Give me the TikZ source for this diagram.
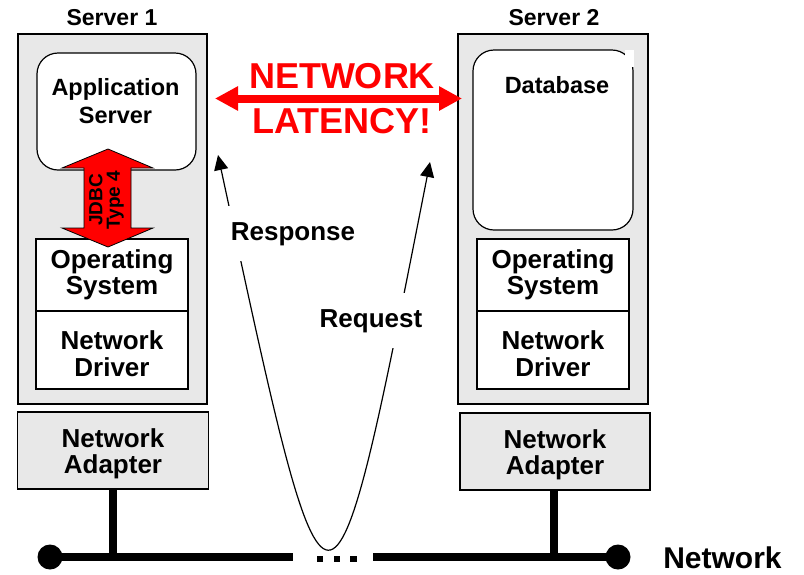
\documentclass[tikz,border=0pt]{standalone}
\usepackage{fontspec}
\setmainfont{Liberation Sans}
\usetikzlibrary{arrows.meta}
\definecolor{boxgray}{RGB}{232,232,232}
\definecolor{alarmred}{RGB}{255,0,0}
\begin{document}
\begin{tikzpicture}[x=1pt,y=-1pt,
  server/.style={draw, fill=boxgray, line width=1.4pt, inner sep=0pt},
  layer/.style={draw, fill=white, line width=1.2pt, inner sep=0pt, align=center,
    font=\fontsize{26}{26}\selectfont\bfseries},
  driver/.style={layer, text height=54pt, font=\fontsize{26}{27}\selectfont\bfseries},
  adapter/.style={draw, fill=boxgray, line width=1.2pt, inner sep=0pt, align=center,
    text height=51pt, font=\fontsize{26}{26}\selectfont\bfseries},
  softbox/.style={draw, fill=white, line width=1.2pt, rounded corners=21pt, inner sep=0pt},
  boxtext/.style={inner sep=0pt, align=center, font=\fontsize{23.5}{28}\selectfont\bfseries},
  srvlabel/.style={inner sep=0pt, anchor=base, font=\fontsize{23}{23}\selectfont\bfseries},
  flowlabel/.style={fill=white, inner xsep=4pt, inner ysep=16pt, anchor=base,
    font=\fontsize{26}{26}\selectfont\bfseries},
  flow/.style={line width=1.2pt, {Triangle[length=15pt,width=14pt]}-{Triangle[length=15pt,width=14pt]}},
  netline/.style={line width=7.5pt},
  latency/.style={alarmred, line width=8pt, {Triangle[length=23pt,width=23pt]}-{Triangle[length=23pt,width=23pt]}}
]
\useasboundingbox (0,0) rectangle (804,574);

% server enclosures
\node[server, minimum width=189pt, minimum height=370pt] (srv1) at (112.5,219) {};
\node[server, minimum width=190pt, minimum height=370pt] (srv2) at (553,219) {};
\node[srvlabel] (srv1lbl) at (112,25) {Server 1};
\node[srvlabel] (srv2lbl) at (554,25) {Server 2};

% software boxes
\node[softbox, minimum width=159pt, minimum height=117pt] (app) at (116.5,111.5) {};
\node[boxtext] (apptext) at (115.5,101.5) {Application\\Server};
\node[softbox, minimum width=160pt, minimum height=180pt] (db) at (553,140) {};
\fill[white] (625,49.5) rectangle (633.6,67);
\node[boxtext] (dbtext) at (557,85.5) {Database};

% operating system and driver layers
\node[layer, minimum width=152pt, minimum height=72pt] (os1) at (112,275) {Operating\\System};
\node[driver, minimum width=152pt, minimum height=78pt] (nd1) at (112,350) {Network\\Driver};
\node[layer, minimum width=152pt, minimum height=72pt] (os2) at (553,275) {Operating\\System};
\node[driver, minimum width=152pt, minimum height=78pt] (nd2) at (553,350) {Network\\Driver};

% network adapters
\node[adapter, minimum width=191pt, minimum height=77pt] (ad1) at (113,450.5) {Network\\Adapter};
\node[adapter, minimum width=190pt, minimum height=77pt] (ad2) at (555,451.5) {Network\\Adapter};

% JDBC double arrow between application server and OS
\filldraw[fill=alarmred, draw=black, line width=0.8pt]
  (108,149) -- (153,168) -- (131,168) -- (131,228) -- (153,228) -- (108,247)
  -- (62,228) -- (84,228) -- (84,168) -- (62,168) -- cycle;
\node[inner sep=0pt, rotate=90, align=center, font=\fontsize{19}{17.5}\selectfont\bfseries]
  (jdbc) at (106.5,200) {JDBC\\Type 4};

% network latency
\coordinate (latL) at (215,98.5);
\coordinate (latR) at (462,98.5);
\draw[latency] (latL) -- (latR);
\node[inner sep=0pt, align=center, text=alarmred, font=\fontsize{36}{45}\selectfont\bfseries]
  (lat) at (342,98.5) {NETWORK\\LATENCY!};

% request / response round trip
\coordinate (respTip) at (218,155);
\coordinate (reqTip) at (430,162);
\draw[flow] (respTip) .. controls (330,676) and (329,676) .. (reqTip);
\node[flowlabel] (resp) at (293,240) {Response};
\node[flowlabel] (req) at (371,327) {Request};

% network bus
\coordinate (dotL) at (50,557);
\coordinate (gapL) at (293,557);
\coordinate (gapR) at (373,557);
\coordinate (dotR) at (618,557);
\coordinate (tap1) at (113,557);
\coordinate (tap2) at (554,557);
\draw[netline] (dotL) -- (gapL);
\draw[netline] (gapR) -- (dotR);
\draw[netline] (ad1.south) -- (tap1);
\draw[netline] (ad2.south -| tap2) -- (tap2);
\fill (dotL) circle[radius=12.5pt];
\fill (dotR) circle[radius=12.5pt];
\fill (316.5,555.5) rectangle (323,562);
\fill (333.5,555.5) rectangle (340,562);
\fill (350,555.5) rectangle (356.5,562);
\node[inner sep=0pt, anchor=base, font=\fontsize{30}{30}\selectfont\bfseries]
  (netlbl) at (722.5,568) {Network};
\end{tikzpicture}
\end{document}
